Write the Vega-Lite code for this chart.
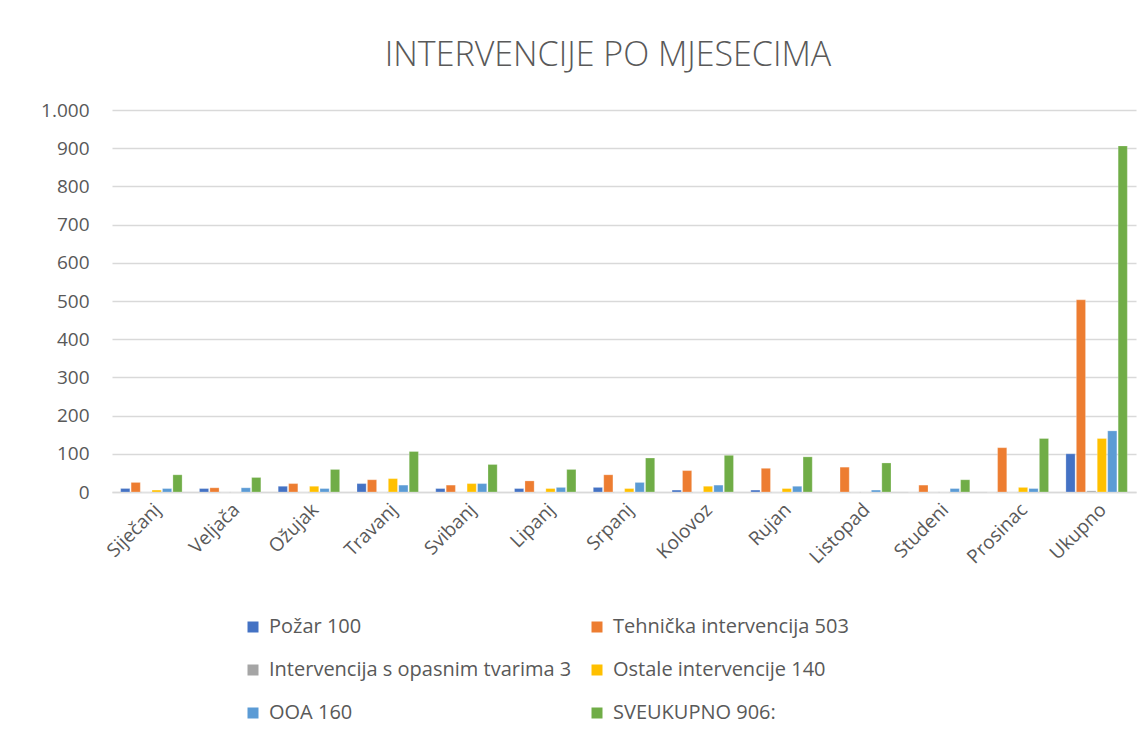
{
  "$schema": "https://vega.github.io/schema/vega-lite/v6.json",
  "width": 1024,
  "height": 382,
  "autosize": {"type": "none"},
  "padding": {"left": 112, "top": 110, "right": 11, "bottom": 252},
  "background": "white",
  "title": {
    "text": "INTERVENCIJE PO MJESECIMA",
    "font": "Open Sans",
    "fontSize": 34,
    "fontWeight": 300,
    "color": "#595959",
    "anchor": "middle",
    "offset": 28,
    "dx": -16
  },
  "data": {
    "values": [
      {"mjesec": "Siječanj", "vrsta": "Požar 100", "broj": 9},
      {"mjesec": "Siječanj", "vrsta": "Tehnička intervencija 503", "broj": 25},
      {"mjesec": "Siječanj", "vrsta": "Intervencija s opasnim tvarima 3", "broj": 0},
      {"mjesec": "Siječanj", "vrsta": "Ostale intervencije 140", "broj": 5},
      {"mjesec": "Siječanj", "vrsta": "OOA 160", "broj": 9},
      {"mjesec": "Siječanj", "vrsta": "SVEUKUPNO 906:", "broj": 45},
      {"mjesec": "Veljača", "vrsta": "Požar 100", "broj": 9},
      {"mjesec": "Veljača", "vrsta": "Tehnička intervencija 503", "broj": 11},
      {"mjesec": "Veljača", "vrsta": "Intervencija s opasnim tvarima 3", "broj": 0},
      {"mjesec": "Veljača", "vrsta": "Ostale intervencije 140", "broj": 0},
      {"mjesec": "Veljača", "vrsta": "OOA 160", "broj": 11},
      {"mjesec": "Veljača", "vrsta": "SVEUKUPNO 906:", "broj": 38},
      {"mjesec": "Ožujak", "vrsta": "Požar 100", "broj": 15},
      {"mjesec": "Ožujak", "vrsta": "Tehnička intervencija 503", "broj": 22},
      {"mjesec": "Ožujak", "vrsta": "Intervencija s opasnim tvarima 3", "broj": 0},
      {"mjesec": "Ožujak", "vrsta": "Ostale intervencije 140", "broj": 15},
      {"mjesec": "Ožujak", "vrsta": "OOA 160", "broj": 9},
      {"mjesec": "Ožujak", "vrsta": "SVEUKUPNO 906:", "broj": 59},
      {"mjesec": "Travanj", "vrsta": "Požar 100", "broj": 22},
      {"mjesec": "Travanj", "vrsta": "Tehnička intervencija 503", "broj": 32},
      {"mjesec": "Travanj", "vrsta": "Intervencija s opasnim tvarima 3", "broj": 0},
      {"mjesec": "Travanj", "vrsta": "Ostale intervencije 140", "broj": 35},
      {"mjesec": "Travanj", "vrsta": "OOA 160", "broj": 18},
      {"mjesec": "Travanj", "vrsta": "SVEUKUPNO 906:", "broj": 106},
      {"mjesec": "Svibanj", "vrsta": "Požar 100", "broj": 9},
      {"mjesec": "Svibanj", "vrsta": "Tehnička intervencija 503", "broj": 18},
      {"mjesec": "Svibanj", "vrsta": "Intervencija s opasnim tvarima 3", "broj": 0},
      {"mjesec": "Svibanj", "vrsta": "Ostale intervencije 140", "broj": 22},
      {"mjesec": "Svibanj", "vrsta": "OOA 160", "broj": 22},
      {"mjesec": "Svibanj", "vrsta": "SVEUKUPNO 906:", "broj": 72},
      {"mjesec": "Lipanj", "vrsta": "Požar 100", "broj": 9},
      {"mjesec": "Lipanj", "vrsta": "Tehnička intervencija 503", "broj": 29},
      {"mjesec": "Lipanj", "vrsta": "Intervencija s opasnim tvarima 3", "broj": 0},
      {"mjesec": "Lipanj", "vrsta": "Ostale intervencije 140", "broj": 9},
      {"mjesec": "Lipanj", "vrsta": "OOA 160", "broj": 12},
      {"mjesec": "Lipanj", "vrsta": "SVEUKUPNO 906:", "broj": 59},
      {"mjesec": "Srpanj", "vrsta": "Požar 100", "broj": 12},
      {"mjesec": "Srpanj", "vrsta": "Tehnička intervencija 503", "broj": 45},
      {"mjesec": "Srpanj", "vrsta": "Intervencija s opasnim tvarima 3", "broj": 0},
      {"mjesec": "Srpanj", "vrsta": "Ostale intervencije 140", "broj": 9},
      {"mjesec": "Srpanj", "vrsta": "OOA 160", "broj": 25},
      {"mjesec": "Srpanj", "vrsta": "SVEUKUPNO 906:", "broj": 89},
      {"mjesec": "Kolovoz", "vrsta": "Požar 100", "broj": 5},
      {"mjesec": "Kolovoz", "vrsta": "Tehnička intervencija 503", "broj": 56},
      {"mjesec": "Kolovoz", "vrsta": "Intervencija s opasnim tvarima 3", "broj": 0},
      {"mjesec": "Kolovoz", "vrsta": "Ostale intervencije 140", "broj": 15},
      {"mjesec": "Kolovoz", "vrsta": "OOA 160", "broj": 18},
      {"mjesec": "Kolovoz", "vrsta": "SVEUKUPNO 906:", "broj": 96},
      {"mjesec": "Rujan", "vrsta": "Požar 100", "broj": 5},
      {"mjesec": "Rujan", "vrsta": "Tehnička intervencija 503", "broj": 62},
      {"mjesec": "Rujan", "vrsta": "Intervencija s opasnim tvarima 3", "broj": 0},
      {"mjesec": "Rujan", "vrsta": "Ostale intervencije 140", "broj": 9},
      {"mjesec": "Rujan", "vrsta": "OOA 160", "broj": 15},
      {"mjesec": "Rujan", "vrsta": "SVEUKUPNO 906:", "broj": 92},
      {"mjesec": "Listopad", "vrsta": "Požar 100", "broj": 0},
      {"mjesec": "Listopad", "vrsta": "Tehnička intervencija 503", "broj": 65},
      {"mjesec": "Listopad", "vrsta": "Intervencija s opasnim tvarima 3", "broj": 0},
      {"mjesec": "Listopad", "vrsta": "Ostale intervencije 140", "broj": 0},
      {"mjesec": "Listopad", "vrsta": "OOA 160", "broj": 5},
      {"mjesec": "Listopad", "vrsta": "SVEUKUPNO 906:", "broj": 76},
      {"mjesec": "Studeni", "vrsta": "Požar 100", "broj": 0},
      {"mjesec": "Studeni", "vrsta": "Tehnička intervencija 503", "broj": 18},
      {"mjesec": "Studeni", "vrsta": "Intervencija s opasnim tvarima 3", "broj": 0},
      {"mjesec": "Studeni", "vrsta": "Ostale intervencije 140", "broj": 0},
      {"mjesec": "Studeni", "vrsta": "OOA 160", "broj": 9},
      {"mjesec": "Studeni", "vrsta": "SVEUKUPNO 906:", "broj": 32},
      {"mjesec": "Prosinac", "vrsta": "Požar 100", "broj": 0},
      {"mjesec": "Prosinac", "vrsta": "Tehnička intervencija 503", "broj": 116},
      {"mjesec": "Prosinac", "vrsta": "Intervencija s opasnim tvarima 3", "broj": 0},
      {"mjesec": "Prosinac", "vrsta": "Ostale intervencije 140", "broj": 12},
      {"mjesec": "Prosinac", "vrsta": "OOA 160", "broj": 9},
      {"mjesec": "Prosinac", "vrsta": "SVEUKUPNO 906:", "broj": 140},
      {"mjesec": "Ukupno", "vrsta": "Požar 100", "broj": 100},
      {"mjesec": "Ukupno", "vrsta": "Tehnička intervencija 503", "broj": 503},
      {"mjesec": "Ukupno", "vrsta": "Intervencija s opasnim tvarima 3", "broj": 3},
      {"mjesec": "Ukupno", "vrsta": "Ostale intervencije 140", "broj": 140},
      {"mjesec": "Ukupno", "vrsta": "OOA 160", "broj": 160},
      {"mjesec": "Ukupno", "vrsta": "SVEUKUPNO 906:", "broj": 906}
    ]
  },
  "mark": {"type": "bar", "stroke": "white", "strokeOpacity": 0.5, "strokeWidth": 0.5},
  "encoding": {
    "x": {
      "field": "mjesec",
      "type": "nominal",
      "sort": null,
      "scale": {"paddingInner": 0.22, "paddingOuter": 0.11},
      "axis": {
        "title": null,
        "labelAngle": -45,
        "labelFont": "Open Sans",
        "labelFontSize": 19,
        "labelColor": "#595959",
        "ticks": false,
        "domainColor": "#D9D9D9",
        "domainWidth": 1.5,
        "labelPadding": 8
      }
    },
    "xOffset": {
      "field": "vrsta",
      "type": "nominal",
      "sort": null,
      "scale": {"paddingInner": 0.12}
    },
    "y": {
      "field": "broj",
      "type": "quantitative",
      "scale": {"domain": [0, 1000], "nice": false},
      "axis": {
        "title": null,
        "values": [0, 100, 200, 300, 400, 500, 600, 700, 800, 900, 1000],
        "labelExpr": "replace(format(datum.value, ','), ',', '.')",
        "labelFont": "Open Sans",
        "labelFontSize": 19,
        "labelColor": "#595959",
        "labelPadding": 23,
        "ticks": false,
        "domain": false,
        "gridColor": "#D9D9D9",
        "gridWidth": 1.5
      }
    },
    "color": {
      "field": "vrsta",
      "type": "nominal",
      "sort": null,
      "scale": {
        "domain": ["Požar 100", "Tehnička intervencija 503", "Intervencija s opasnim tvarima 3", "Ostale intervencije 140", "OOA 160", "SVEUKUPNO 906:"],
        "range": ["#4472C4", "#ED7D31", "#A5A5A5", "#FFC000", "#5B9BD5", "#70AD47"]
      },
      "legend": {
        "title": null,
        "orient": "none",
        "direction": "horizontal",
        "legendX": 131,
        "legendY": 507,
        "columns": 2,
        "symbolType": "square",
        "symbolSize": 121,
        "symbolStrokeWidth": 0,
        "labelFont": "Open Sans",
        "labelFontSize": 20,
        "labelColor": "#595959",
        "labelLimit": 400,
        "labelOffset": 6,
        "rowPadding": 23,
        "columnPadding": 15
      }
    }
  },
  "config": {"view": {"stroke": null}}
}
